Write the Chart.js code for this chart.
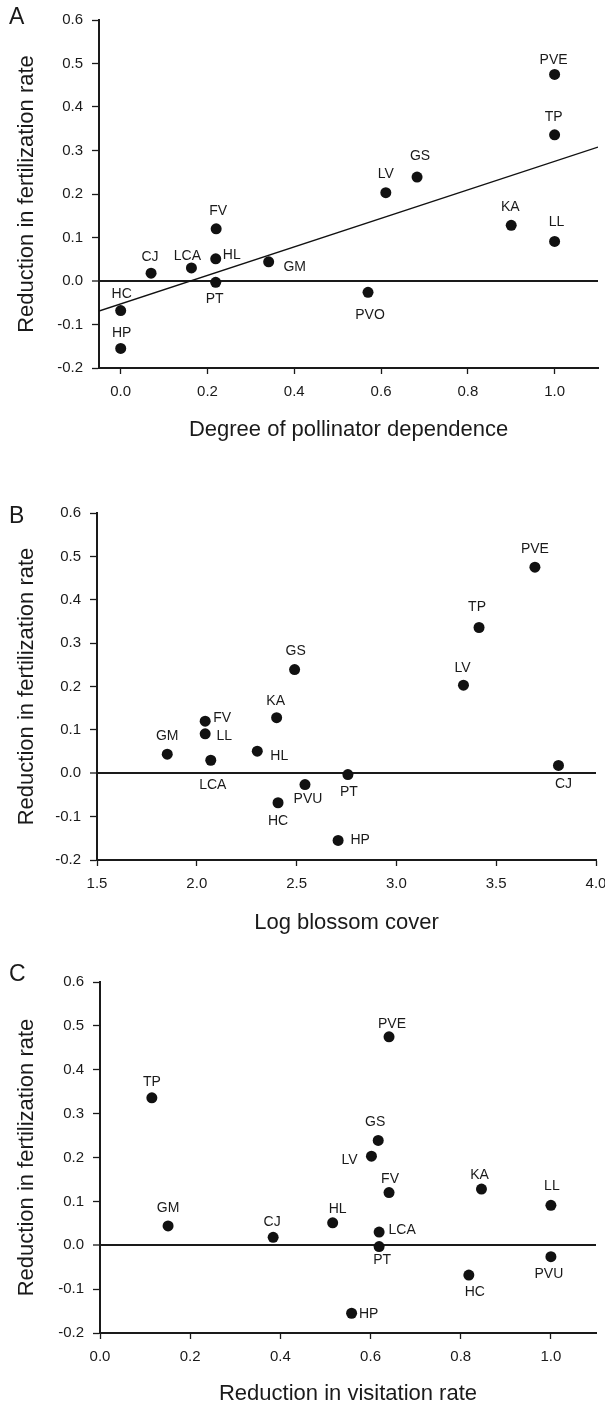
<!DOCTYPE html>
<html>
<head>
<meta charset="utf-8">
<script src="https://cdn.jsdelivr.net/npm/chart.js@4.4.1/dist/chart.umd.min.js"></script>
<style>
  body { margin: 0; background: #fff; width: 605px; height: 1407px; position: relative; overflow: hidden; }
  canvas { position: absolute; left: 0; }
</style>
</head>
<body>
<canvas id="panelA" width="605" height="470" style="top:0px"></canvas>
<canvas id="panelB" width="605" height="470" style="top:470px"></canvas>
<canvas id="panelC" width="605" height="467" style="top:940px"></canvas>
<script>
// species codes, same order in every panel
const species = ["PVE", "TP", "GS", "LV", "KA", "FV", "LL", "HL", "GM", "LCA", "CJ", "PT", "PVU", "HC", "HP"];
// panel A spells PVU as PVO
const speciesA = ["PVE", "TP", "GS", "LV", "KA", "FV", "LL", "HL", "GM", "LCA", "CJ", "PT", "PVO", "HC", "HP"];

// y: reduction in fertilization rate (shared by all panels)
const fertReduction = [0.475, 0.336, 0.239, 0.203, 0.128, 0.12, 0.091, 0.051, 0.044, 0.03, 0.018, -0.003, -0.026, -0.068, -0.155];

// x values per panel
const pollinatorDependence = [1.0, 1.0, 0.683, 0.611, 0.9, 0.22, 1.0, 0.219, 0.341, 0.163, 0.07, 0.219, 0.57, 0.0, 0.0];
const logBlossomCover = [3.694, 3.414, 2.49, 3.336, 2.40, 2.042, 2.042, 2.303, 1.852, 2.07, 3.812, 2.757, 2.542, 2.407, 2.708];
const visitationReduction = [0.641, 0.115, 0.617, 0.602, 0.846, 0.641, 1.0, 0.516, 0.151, 0.619, 0.384, 0.619, 1.0, 0.818, 0.558];

// regression line in panel A (end points)
const fitX = [-0.05, 1.1];
const fitY = [-0.069, 0.308];

// tick labels
const xTicksA = [0, 0.2, 0.4, 0.6, 0.8, 1.0];
const xTicksB = [1.5, 2.0, 2.5, 3.0, 3.5, 4.0];
const xTicksC = [0, 0.2, 0.4, 0.6, 0.8, 1.0];
const yTicks = [-0.2, -0.1, 0, 0.1, 0.2, 0.3, 0.4, 0.5, 0.6];

// label placement (px offset of label centre from its point)
const offsetsA = [[-1,-14],[-1,-18],[3,-21],[0,-19],[-1,-18],[2,-18],[2,-19],[16,-4],[26,5],[-4,-12],[-1,-16],[-1,17],[2,23],[1,-16],[1,-15]];
const offsetsB = [[0,-18],[-2,-20],[1,-18],[-1,-17],[-1,-17],[17,-3],[19,2],[22,5],[0,-18],[2,25],[5,19],[1,18],[3,15],[0,18],[22,0]];
const offsetsC = [[3,-13],[0,-16],[-3,-18],[-22,4],[-2,-14],[1,-13],[1,-19],[5,-14],[0,-18],[23,-2],[-1,-15],[3,14],[-2,17],[6,17],[17,1]];

const FONT = '"Liberation Sans", Arial, sans-serif';
const INK = "#1a1a1a";

const pointLabels = {
  id: "pointLabels",
  afterDatasetsDraw(chart, args, opts) {
    const ctx = chart.ctx;
    const meta = chart.getDatasetMeta(0);
    ctx.save();
    ctx.fillStyle = INK;
    ctx.font = "14px " + FONT;
    ctx.textAlign = "center";
    ctx.textBaseline = "middle";
    meta.data.forEach((pt, i) => {
      const [dx, dy] = opts.offsets[i];
      ctx.fillText(opts.names[i], pt.x + dx, pt.y + dy);
    });
    // panel letter
    ctx.font = "23px " + FONT;
    ctx.textAlign = "left";
    ctx.fillText(opts.letter, 9, opts.letterY);
    ctx.restore();
  }
};

function makePanel(id, p) {
  const canvas = document.getElementById(id);
  const W = canvas.width, H = canvas.height;

  const datasets = [{
    type: "scatter",
    data: p.xs.map((x, i) => ({ x: x, y: fertReduction[i] })),
    backgroundColor: "#111",
    borderWidth: 0,
    pointRadius: 5.5,
    pointHoverRadius: 5.5,
    clip: false
  }];
  if (p.fit) {
    datasets.push({
      type: "line",
      data: p.fit.x.map((x, i) => ({ x: x, y: p.fit.y[i] })),
      borderColor: "#111",
      borderWidth: 1.3,
      pointRadius: 0,
      fill: false
    });
  }

  new Chart(canvas, {
    type: "scatter",
    data: { datasets: datasets },
    options: {
      responsive: false,
      animation: false,
      devicePixelRatio: 1,
      layout: { autoPadding: false, padding: { left: 0, top: p.area.top, right: W - p.area.right, bottom: 0 } },
      plugins: {
        legend: { display: false },
        tooltip: { enabled: false },
        pointLabels: { names: p.names, offsets: p.offsets, letter: p.letter, letterY: p.letterY }
      },
      scales: {
        x: {
          type: "linear",
          min: p.xMin,
          max: p.xMax,
          afterBuildTicks: s => { s.ticks = p.xTicks.map(v => ({ value: v })); },
          afterFit: s => { s.height = H - p.area.bottom; s.paddingLeft = 0; s.paddingRight = 0; },
          grid: { drawOnChartArea: false, tickLength: 6, tickColor: INK, tickWidth: 1.3 },
          border: { color: INK, width: 2 },
          ticks: {
            padding: 9, color: INK, maxRotation: 0, autoSkip: false,
            font: { family: FONT, size: 15 },
            callback: v => Number(v).toFixed(1)
          },
          title: {
            display: true, text: p.xTitle, color: INK,
            font: { family: FONT, size: 22 },
            padding: { top: 0, bottom: p.xTitlePad }
          }
        },
        y: {
          type: "linear",
          min: -0.2,
          max: 0.6,
          afterBuildTicks: s => { s.ticks = yTicks.map(v => ({ value: v })); },
          afterFit: s => { s.width = p.area.left; s.paddingTop = 0; s.paddingBottom = 0; },
          grid: {
            drawOnChartArea: true,
            color: c => (c.tick && c.tick.value === 0 ? INK : "rgba(0,0,0,0)"),
            lineWidth: c => (c.tick && c.tick.value === 0 ? 2 : 1),
            tickLength: 7, tickColor: INK, tickWidth: 1.3
          },
          border: { color: INK, width: 2 },
          ticks: {
            padding: 9, color: INK, autoSkip: false,
            font: { family: FONT, size: 15 },
            callback: v => Number(v).toFixed(1)
          },
          title: {
            display: true, text: "Reduction in fertilization rate", color: INK,
            font: { family: FONT, size: 22 },
            padding: { top: 14, bottom: 0 }
          }
        }
      }
    },
    plugins: [pointLabels]
  });
}

makePanel("panelA", {
  xs: pollinatorDependence, names: speciesA, offsets: offsetsA,
  letter: "A", letterY: 18,
  xMin: -0.05, xMax: 1.1, xTicks: xTicksA,
  xTitle: "Degree of pollinator dependence", xTitlePad: 27,
  area: { left: 99, top: 20, right: 598, bottom: 368 },
  fit: { x: fitX, y: fitY }
});

makePanel("panelB", {
  xs: logBlossomCover, names: species, offsets: offsetsB,
  letter: "B", letterY: 47,
  xMin: 1.5, xMax: 4.0, xTicks: xTicksB,
  xTitle: "Log blossom cover", xTitlePad: 4,
  area: { left: 97, top: 43, right: 596, bottom: 390 }
});

makePanel("panelC", {
  xs: visitationReduction, names: species, offsets: offsetsC,
  letter: "C", letterY: 35,
  xMin: 0, xMax: 1.1, xTicks: xTicksC,
  xTitle: "Reduction in visitation rate", xTitlePad: 0,
  area: { left: 100, top: 42, right: 596, bottom: 393 }
});
</script>
</body>
</html>
